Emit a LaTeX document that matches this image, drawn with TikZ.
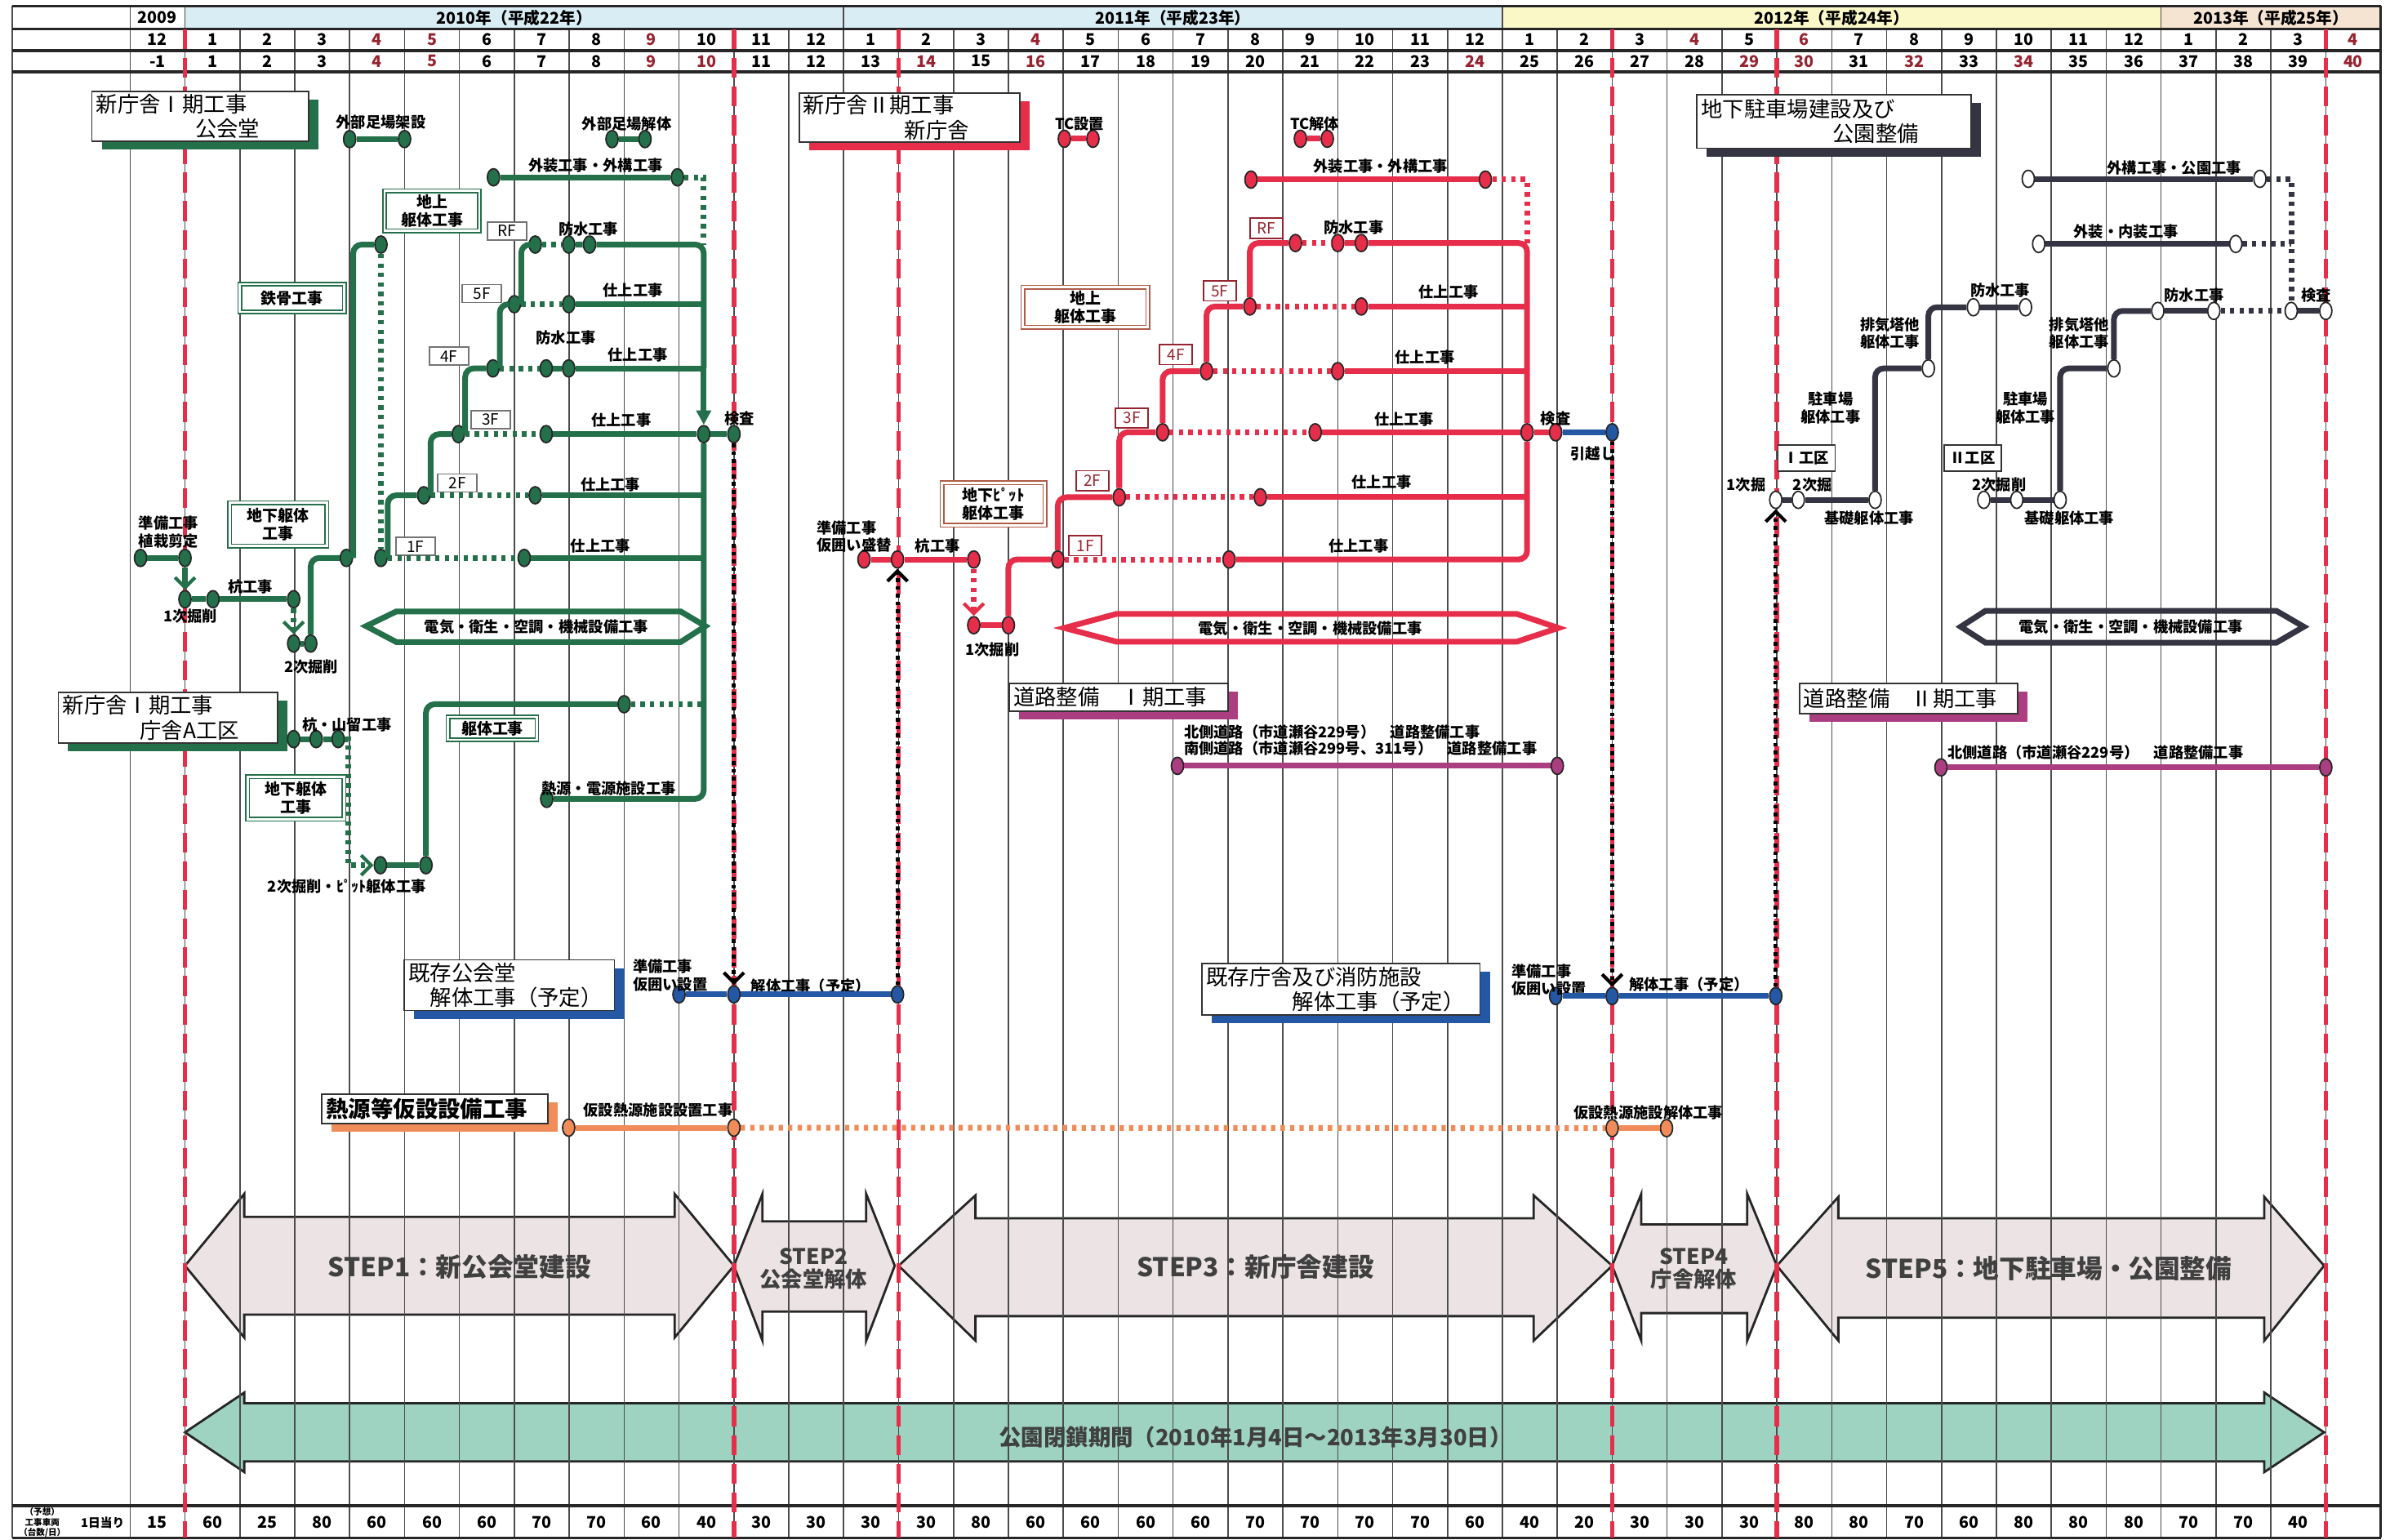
\documentclass[tikz,border=0pt]{standalone}
\usepackage{fontspec}
\setmainfont{Noto Sans CJK JP}
\usetikzlibrary{arrows.meta}
\usetikzlibrary{shapes.geometric}
\usetikzlibrary{shadows}
\usetikzlibrary{positioning}

\definecolor{grn}{RGB}{36,112,74}
\definecolor{rd}{RGB}{230,46,74}
\definecolor{dk}{RGB}{52,52,66}
\definecolor{blu}{RGB}{36,88,165}
\definecolor{pur}{RGB}{170,62,128}
\definecolor{org}{RGB}{240,140,90}
\definecolor{brn}{RGB}{176,92,70}
\definecolor{hred}{RGB}{150,36,48}
\definecolor{hblue}{RGB}{216,237,244}
\definecolor{hyel}{RGB}{250,248,198}
\definecolor{hpch}{RGB}{246,228,210}
\definecolor{stepfill}{RGB}{236,228,228}
\definecolor{parkfill}{RGB}{158,211,193}

% full-width roman numerals
\newcommand{\rI}{\makebox[1em]{Ⅰ}}
\newcommand{\rII}{\makebox[1em]{Ⅱ}}

\begin{document}
\begin{tikzpicture}[x=0.6723cm, y=-0.018727cm,
    gridln/.style={draw=black!70, line width=0.45pt},
    tblrule/.style={draw=black!85, line width=1pt},
    stagecut/.style={draw=rd, line width=1.6pt, dash pattern=on 7pt off 3pt},
    hdr/.style={font=\fontsize{5.6}{6}\selectfont\bfseries, inner sep=0},
    lbl/.style={font=\fontsize{5.2}{6.2}\selectfont\bfseries, inner sep=0, align=center},
    ttl/.style={draw=black!80, fill=white, line width=0.5pt, font=\fontsize{7.5}{8.6}\selectfont, align=left, inner xsep=1.5pt, inner ysep=0pt},
    shd/.style={drop shadow={shadow xshift=0.12cm, shadow yshift=-0.1cm, fill=#1, opacity=1}},
    dbox/.style={draw=#1, double=white, double distance=0.8pt, line width=0.45pt, fill=white, font=\fontsize{5.4}{6.4}\selectfont\bfseries, align=center, inner sep=0},
    flr/.style={draw=black!55, fill=white, line width=0.5pt, font=\fontsize{5.4}{6}\selectfont, inner sep=0, minimum width=0.48cm, minimum height=0.22cm},
    rflr/.style={flr, draw=hred, text=hred, minimum width=0.4cm, minimum height=0.245cm},
    ev/.style={ellipse, draw=black!85, fill=#1, line width=0.5pt, minimum width=0.15cm, minimum height=0.21cm, inner sep=0},
    work/.style={draw=#1, line width=2pt},
    wait/.style={draw=#1, line width=2pt, dash pattern=on 1.5pt off 1.8pt},
    xfer/.style={draw=black, line width=1.5pt, dash pattern=on 1.3pt off 1.4pt},
    barb/.style={-{Straight Barb[length=3.5pt,width=7pt,line width=1.2pt]}},
    hexa/.style={draw=#1, line width=2pt},
    stepar/.style={draw=black!85, line width=0.8pt, fill=#1},
    steptxt/.style={font=\fontsize{9}{10}\selectfont\bfseries, text=black!75, align=center, inner sep=0},
    zone/.style={draw=black!80, line width=0.5pt, fill=white, lbl, minimum width=0.7cm, minimum height=0.32cm}]

    % page
    \useasboundingbox (-3.37,0) rectangle (40.17,1007);

    % year cells
    \fill[hblue] (0,4) rectangle (24,19);
    \fill[hyel] (24,4) rectangle (36,19);
    \fill[hpch] (36,4) rectangle (40,19);

    % STEP arrows and park closure
    \draw[stepar=stepfill] (0,828) -- (1.08,781) -- (1.08,796) -- (8.92,796) -- (8.92,781) -- (10,828) -- (8.92,875) -- (8.92,860) -- (1.08,860) -- (1.08,875) -- cycle;
    \draw[stepar=stepfill] (10,828) -- (10.52,781) -- (10.52,799) -- (12.41,799) -- (12.41,781) -- (12.93,828) -- (12.41,877) -- (12.41,858) -- (10.52,858) -- (10.52,877) -- cycle;
    \draw[stepar=stepfill] (13,828) -- (14.4,782) -- (14.4,797) -- (24.57,797) -- (24.57,782) -- (26,828) -- (24.57,877) -- (24.57,861) -- (14.4,861) -- (14.4,877) -- cycle;
    \draw[stepar=stepfill] (26,828) -- (26.53,781) -- (26.53,801) -- (28.46,801) -- (28.46,781) -- (29,828) -- (28.46,877) -- (28.46,859) -- (26.53,859) -- (26.53,877) -- cycle;
    \draw[stepar=stepfill] (29,828) -- (30.12,783) -- (30.12,797) -- (37.88,797) -- (37.88,783) -- (38.97,828) -- (37.88,877) -- (37.88,862) -- (30.12,862) -- (30.12,877) -- cycle;
    \draw[stepar=parkfill] (0,937) -- (1.08,911) -- (1.08,918) -- (37.88,918) -- (37.88,911) -- (38.97,937) -- (37.88,963) -- (37.88,956) -- (1.08,956) -- (1.08,963) -- cycle;

    % Draw grid
    \foreach \x in {0,...,40} {
        \draw[gridln] (\x,19) -- (\x,1006);
    }
    \foreach \x in {-3.15,-1,0,12,24,36,40} {
        \draw[gridln] (\x,4) -- (\x,19);
    }
    \draw[gridln] (-3.15,19) -- (-3.15,1006);
    \draw[gridln] (-1,19) -- (-1,1006);
    \draw[tblrule] (40,4) -- (40,1006);
    \foreach \y in {4,19,33,47,985,1006} {
        \draw[tblrule] (-3.15,\y) -- (40,\y);
    }

    % stage boundaries
    \foreach \x in {0,10,13,26,29,39} {
        \draw[stagecut] (\x,19) -- (\x,1006);
    }

    % Add years, months and serial numbers
    \node[hdr] (yr09) at (-0.5,11.5) {2009};
    \node[hdr] (yr10) at (6,11.5) {2010年（平成22年）};
    \node[hdr] (yr11) at (18,11.5) {2011年（平成23年）};
    \node[hdr] (yr12) at (30,11.5) {2012年（平成24年）};
    \node[hdr] (yr13) at (38,11.5) {2013年（平成25年）};
    \node[hdr] (mon0) at (-0.5,26) {12};
    \node[hdr] (ser0) at (-0.5,40) {-1};
    \foreach \j in {1,...,40} {
        \pgfmathtruncatemacro\mon{mod(\j-1,12)+1}
        \pgfmathtruncatemacro\ra{(\j==4)||(\j==5)||(\j==9)||(\j==16)||(\j==28)||(\j==30)||(\j==40)}
        \pgfmathtruncatemacro\rb{(\j==4)||(\j==5)||(\j==9)||(\j==10)||(\j==14)||(\j==16)||(\j==24)||(\j==29)||(\j==30)||(\j==32)||(\j==34)||(\j==40)}
        \ifnum\ra=1 \def\hcA{hred}\else\def\hcA{black}\fi
        \ifnum\rb=1 \def\hcB{hred}\else\def\hcB{black}\fi
        \node[hdr, text=\hcA] (mon\j) at (\j-0.5,26) {\mon};
        \node[hdr, text=\hcB] (ser\j) at (\j-0.5,40) {\j};
    }

    % vehicles per day
    \node[font=\fontsize{3}{3.5}\selectfont\bfseries, align=center, inner sep=0] (veh) at (-2.6,996) {（予想）\\工事車両\\（台数/日）};
    \node[hdr, font=\fontsize{4.2}{5}\selectfont\bfseries] (perday) at (-1.5,996) {1日当り};
    \node[hdr] (val0) at (-0.5,996) {15};
    \foreach \v [count=\j] in {60,25,80,60,60,60,70,70,60,40,30,30,30,30,80,60,60,60,60,70,70,70,70,60,40,20,30,30,30,80,80,70,60,80,80,80,70,70,40} {
        \node[hdr] (val\j) at (\j-0.5,996) {\v};
    }

    % STEP texts
    \node[steptxt] (st1) at (5.0,829) {STEP1：新公会堂建設};
    \node[steptxt, font=\fontsize{7.5}{8}\selectfont\bfseries] (st2) at (11.45,830) {STEP2\\公会堂解体};
    \node[steptxt] (st3) at (19.5,829) {STEP3：新庁舎建設};
    \node[steptxt, font=\fontsize{7.5}{8}\selectfont\bfseries] (st4) at (27.49,830) {STEP4\\庁舎解体};
    \node[steptxt] (st5) at (33.95,830) {STEP5：地下駐車場・公園整備};
    \node[steptxt, font=\fontsize{7.8}{9}\selectfont\bfseries] (park) at (19.5,940) {公園閉鎖期間（2010年1月4日～2013年3月30日）};

    % equipment hexagons
    \draw[hexa=grn] (3.3,409.6) -- (3.85,400) -- (9.03,400) -- (9.48,409.6) -- (9.03,420) -- (3.85,420) -- cycle;
    \draw[hexa=rd] (16.02,410.8) -- (16.97,401.6) -- (24.26,401.6) -- (25.02,410.8) -- (24.26,419.8) -- (16.97,419.8) -- cycle;
    \draw[hexa=dk] (32.35,410) -- (32.8,399.6) -- (38.1,399.6) -- (38.6,410) -- (38.1,420.4) -- (32.8,420.4) -- cycle;
    \node[lbl] (hxG) at (6.4,410) {電気・衛生・空調・機械設備工事};
    \node[lbl] (hxR) at (20.5,411) {電気・衛生・空調・機械設備工事};
    \node[lbl] (hxK) at (35.45,410) {電気・衛生・空調・機械設備工事};

    % ---- new public hall (green) ----
    \node[ttl, shd=grn, text width=2.55cm, minimum height=0.61cm] (ttlHall) at (0.28,76) {新庁舎\rI 期工事\\\hspace*{4.6em}公会堂};
    \node[ttl, shd=grn, text width=2.58cm, minimum height=0.62cm] (ttlOffA) at (-0.31,469.5) {新庁舎\rI 期工事\\\hspace*{3.6em}庁舎A工区};
    \foreach \n/\x/\y in {gS1/3.0/91, gS2/4.0/91, gS3/7.78/91, gS4/8.38/91, gE1/5.62/116, gE2/8.97/116,
        gR1/6.38/160, gR2/6.99/160, gR3/7.37/160, g51/6.0/199, g52/6.99/199,
        g41/5.61/241, g42/6.58/241, g43/6.99/241, g31/4.98/284, g32/6.58/284, g33/9.45/284, gK/10.0/284,
        g21/4.35/324, g22/6.38/324, gA/2.94/365, gB/3.57/160, gC/3.57/365, g12/6.18/365,
        gP1/-0.81/365, gP2/0/365, gK1/0/392, gK2/0.51/392, gK3/1.98/392, gN1/1.98/421, gN2/2.29/421,
        gY1/1.98/483.5, gY2/2.39/483.5, gY3/2.79/483.5, gQ1/3.56/566, gQ2/4.39/566, gQ3/8.0/460.7, gH1/6.59/522.6}
        \node[ev=grn] (\n) at (\x,\y) {};
    \foreach \n/\y in {R/160,5/199,4/241,2/324,1/365,H/522.6,Q/460.7}
        \coordinate (gc\n) at (9.45,\y);

    \node[lbl] (tgS1) at (3.57,80) {外部足場架設};
    \node[lbl] (tgS3) at (8.05,81) {外部足場解体};
    \node[lbl] (tgE) at (7.48,108) {外装工事・外構工事};
    \node[lbl] (tgR) at (7.35,150) {防水工事};
    \node[lbl] (tgW) at (6.94,221) {防水工事};
    \foreach \n/\x/\y in {5/8.16/190, 4/8.25/232, 3/7.95/275, 2/7.75/317, 1/7.57/357}
        \node[lbl] (tgF\n) at (\x,\y) {仕上工事};
    \node[lbl] (tgK) at (10.1,274) {検査};
    \node[lbl] (tgP) at (-0.3,348) {準備工事\\植栽剪定};
    \node[lbl] (tgK2) at (1.19,384) {杭工事};
    \node[lbl] (tgK1) at (0.1,403) {1次掘削};
    \node[lbl] (tgN) at (2.3,436) {2次掘削};
    \node[lbl] (tgY) at (2.95,474) {杭・山留工事};
    \node[lbl] (tgQ) at (2.95,580) {2次掘削・ﾋﾟｯﾄ躯体工事};
    \node[lbl] (tgH) at (7.72,516) {熱源・電源施設工事};
    \node[dbox=grn, minimum width=1.16cm, minimum height=0.49cm] (bxUp) at (4.5,138) {地上\\躯体工事};
    \node[dbox=grn, minimum width=1.28cm, minimum height=0.34cm] (bxSteel) at (1.95,195) {鉄骨工事};
    \node[dbox=grn, minimum width=1.19cm, minimum height=0.53cm] (bxUnder) at (1.7,343) {地下躯体\\工事};
    \node[dbox=grn, minimum width=1.18cm, minimum height=0.52cm] (bxUnderA) at (2.02,522) {地下躯体\\工事};
    \node[dbox=grn, minimum width=1.09cm, minimum height=0.28cm] (bxBody) at (5.6,476.5) {躯体工事};
    \foreach \n/\x/\y in {RF/5.87/151, 5F/5.41/192, 4F/4.81/233, 3F/5.565/274.5, 2F/4.96/316, 1F/4.2/357.5}
        \node[flr] (gf\n) at (\x,\y) {\n};

    \draw[work=grn] (gS1) -- (gS2);
    \draw[work=grn] (gS3) -- (gS4);
    \draw[work=grn] (gE1) -- (gE2);
    \draw[wait=grn] (gE2) -| (gcR);
    \draw[wait=grn] (gR1) -- (gR2);
    \draw[work=grn, rounded corners=3pt] (gR2) -- (gR3) -- (gcR) -- (gc4);
    \draw[work=grn, -{Triangle[length=5pt,width=5pt]}] (gc4) -- (g33);
    \draw[work=grn, rounded corners=3pt] (g33) -- (gcH) -- (gH1);
    \draw[wait=grn] (g51) -- (g52);
    \draw[work=grn] (g52) -- (gc5);
    \draw[wait=grn] (g41) -- (g42);
    \draw[work=grn] (g42) -- (g43) -- (gc4);
    \draw[wait=grn] (g31) -- (g32);
    \draw[work=grn] (g32) -- (g33) -- (gK);
    \draw[wait=grn] (g21) -- (g22);
    \draw[work=grn] (g22) -- (gc2);
    \draw[wait=grn] (gB) -- (gC);
    \draw[wait=grn] (gC) -- (g12);
    \draw[work=grn] (g12) -- (gc1);
    \draw[work=grn, rounded corners=3pt] (gA.east) |- (gB);
    \draw[work=grn, rounded corners=3pt] (gC.east) |- (g21);
    \draw[work=grn, rounded corners=3pt] (g21.east) |- (g31);
    \draw[work=grn, rounded corners=3pt] (g31.east) |- (g41);
    \draw[work=grn, rounded corners=3pt] (g41.east) |- (g51);
    \draw[work=grn, rounded corners=3pt] (g51.east) |- (gR1);
    \draw[work=grn] (gP1) -- (gP2);
    \draw[work=grn, barb] (gP2) -- (gK1);
    \draw[work=grn] (gK1) -- (gK2) -- (gK3);
    \draw[wait=grn, barb] (gK3) -- (gN1);
    \draw[work=grn] (gN1) -- (gN2);
    \draw[work=grn, rounded corners=3pt] (gN2) |- (gA);
    \draw[work=grn] (gY1) -- (gY2) -- (gY3);
    \draw[wait=grn, barb] (gY3) -| (2.97,566) -- (gQ1);
    \draw[work=grn] (gQ1) -- (gQ2);
    \draw[work=grn, rounded corners=3pt] (gQ2) |- (gQ3);
    \draw[wait=grn] (gQ3) -- (gcQ);

    % ---- new office building (red) ----
    \node[ttl, shd=rd, text width=2.6cm, minimum height=0.6cm] (ttlNew) at (13.2,77) {新庁舎\rII 期工事\\\hspace*{4.7em}新庁舎};
    \foreach \n/\x/\y in {rT1/16.02/90.8, rT2/16.54/90.8, rT3/20.32/90.8, rT4/20.81/90.8, rE1/19.42/117.5, rE2/23.69/117.5,
        rR1/20.23/159, rR2/21.0/159, rR3/21.43/159, r51/19.4/200.5, r52/21.43/200.5, r41/18.61/242.8, r42/21.0/242.8,
        r31/17.81/282.8, r32/20.59/282.8, r33/24.45/282.8, rK/24.97/282.8, r21/17.02/325.3, r22/19.59/325.3,
        r11/15.9/366, r12/19.02/366, rA/12.37/366, rB/12.98/366, rC/14.37/366, rD/14.37/409, rE/15.0/409}
        \node[ev=rd] (\n) at (\x,\y) {};
    \foreach \n/\y in {R/159,5/200.5,4/242.8,2/325.3,1/366}
        \coordinate (rc\n) at (24.45,\y);

    \node[lbl] (trT1) at (16.3,81) {TC設置};
    \node[lbl] (trT3) at (20.58,81) {TC解体};
    \node[lbl] (trE) at (21.78,109) {外装工事・外構工事};
    \node[lbl] (trR) at (21.29,149) {防水工事};
    \foreach \n/\x/\y in {5/23.02/191, 4/22.59/234, 3/22.21/274.5, 2/21.8/315.5, 1/21.38/357}
        \node[lbl] (trF\n) at (\x,\y) {仕上工事};
    \node[lbl] (trK) at (24.97,274) {検査};
    \node[lbl] (trM) at (25.65,297) {引越し};
    \node[lbl, anchor=west, align=left] (trP) at (11.5,351) {準備工事\\仮囲い盛替};
    \node[lbl] (trC) at (13.71,357) {杭工事};
    \node[lbl] (trD) at (14.71,425) {1次掘削};
    \node[dbox=brn, minimum width=1.53cm, minimum height=0.49cm] (bxUpR) at (16.4,201) {地上\\躯体工事};
    \node[dbox=brn, minimum width=1.26cm, minimum height=0.52cm] (bxPit) at (14.73,329.7) {地下ﾋﾟｯﾄ\\躯体工事};
    \foreach \n/\x/\y in {RF/19.7/149.3, 5F/18.85/190.3, 4F/18.05/232, 3F/17.25/273.5, 2F/16.53/314.5, 1F/16.4/357}
        \node[rflr] (rf\n) at (\x,\y) {\n};

    \draw[work=rd] (rT1) -- (rT2);
    \draw[work=rd] (rT3) -- (rT4);
    \draw[work=rd] (rE1) -- (rE2);
    \draw[wait=rd] (rE2) -| (rcR);
    \draw[wait=rd] (rR1) -- (rR2);
    \draw[work=rd, rounded corners=3pt] (rR2) -- (rR3) -- (rcR) -- (r33);
    \draw[work=rd, rounded corners=3pt] (r33) -- (rc1) -- (r12);
    \draw[wait=rd] (r51) -- (r52);
    \draw[work=rd] (r52) -- (rc5);
    \draw[wait=rd] (r41) -- (r42);
    \draw[work=rd] (r42) -- (rc4);
    \draw[wait=rd] (r31) -- (r32);
    \draw[work=rd] (r32) -- (r33) -- (rK);
    \draw[wait=rd] (r21) -- (r22);
    \draw[work=rd] (r22) -- (rc2);
    \draw[wait=rd] (r11) -- (r12);
    \draw[work=rd, rounded corners=3pt] (r11) |- (r21);
    \draw[work=rd, rounded corners=3pt] (r21) |- (r31);
    \draw[work=rd, rounded corners=3pt] (r31) |- (r41);
    \draw[work=rd, rounded corners=3pt] (r41) |- (r51);
    \draw[work=rd, rounded corners=3pt] (r51) |- (rR1);
    \draw[work=rd] (rA) -- (rB) -- (rC);
    \draw[wait=rd, barb] (rC) -- (rD);
    \draw[work=rd] (rD) -- (rE);
    \draw[work=rd, rounded corners=3pt] (rE) |- (r11);

    % ---- road works (purple) ----
    \node[ttl, shd=pur, text width=2.58cm, minimum height=0.34cm] (ttlRoadA) at (17.01,456) {道路整備　\rI 期工事};
    \node[ttl, shd=pur, text width=2.57cm, minimum height=0.375cm] (ttlRoadB) at (31.4,457) {道路整備　\rII 期工事};
    \foreach \n/\x/\y in {pR1/18.08/501, pR2/25.0/501, pR3/31.99/502, pR4/39.0/502}
        \node[ev=pur] (\n) at (\x,\y) {};
    \node[lbl, anchor=west] (tpN) at (18.19,479) {北側道路（市道瀬谷229号）　道路整備工事};
    \node[lbl, anchor=west] (tpS) at (18.19,489.5) {南側道路（市道瀬谷299号、311号）　道路整備工事};
    \node[lbl, anchor=west] (tpN2) at (32.1,492) {北側道路（市道瀬谷229号）　道路整備工事};
    \draw[work=pur] (pR1) -- (pR2);
    \draw[work=pur] (pR3) -- (pR4);

    % ---- demolition (blue) ----
    \node[ttl, shd=blu, text width=2.47cm, minimum height=0.62cm] (ttlDemoA) at (5.91,644.5) {既存公会堂\\\hspace*{1.0em}解体工事（予定）};
    \node[ttl, shd=blu, text width=3.3cm, minimum height=0.63cm] (ttlDemoB) at (21.06,647.3) {既存庁舎及び消防施設\\\hspace*{4em}解体工事（予定）};
    \foreach \n/\x/\y in {bA1/9.0/650.5, bA2/10.0/650.5, bA3/12.98/650.5, bB1/24.97/651.6, bB2/26.0/651.6, bB3/28.98/651.6, bM/26.0/282.8}
        \node[ev=blu] (\n) at (\x,\y) {};
    \node[lbl, anchor=west, align=left] (tbA) at (8.15,638) {準備工事\\仮囲い設置};
    \node[lbl] (tbA2) at (11.4,645) {解体工事（予定）};
    \node[lbl, anchor=west, align=left] (tbB) at (24.16,641) {準備工事\\仮囲い設置};
    \node[lbl] (tbB2) at (27.4,644) {解体工事（予定）};
    \draw[work=blu] (bA1) -- (bA2) -- (bA3);
    \draw[work=blu] (bB1) -- (bB2) -- (bB3);
    \draw[work=blu] (rK) -- (bM);

    % hand-overs between stages
    \draw[xfer, barb] (gK) -- (bA2);
    \draw[xfer, barb] (bA3) -- (rB);
    \draw[xfer, barb] (bM) -- (bB2);

    % ---- temporary heat source (orange) ----
    \node[ttl, shd=org, font=\fontsize{7.8}{9}\selectfont\bfseries, text width=2.66cm, minimum height=0.36cm] (ttlHeat) at (4.55,725.5) {熱源等仮設設備工事};
    \foreach \n/\x/\y in {oA1/6.99/737.7, oA2/10.0/737.7, oA3/26.0/738, oA4/26.99/738}
        \node[ev=org] (\n) at (\x,\y) {};
    \node[lbl] (toA) at (8.62,726.5) {仮設熱源施設設置工事};
    \node[lbl] (toB) at (26.66,728) {仮設熱源施設解体工事};
    \draw[work=org] (oA1) -- (oA2);
    \draw[wait=org] (oA2) -- (oA3);
    \draw[work=org] (oA3) -- (oA4);

    % ---- underground parking and park (dark) ----
    \node[ttl, shd=dk, text width=3.25cm, minimum height=0.655cm] (ttlPark) at (30.04,79.5) {地下駐車場建設及び\\\hspace*{6.1em}公園整備};
    \foreach \n/\x/\y in {pE1/33.58/117, pE2/37.8/117, pF1/33.77/159.6, pF2/37.36/159.6,
        pk1/28.98/327, pk2/29.39/327, pk3/30.79/327, pk4/31.76/241, pk5/32.58/201, pk6/33.53/201,
        pq1/32.77/327, pq2/33.37/327, pq3/34.16/327, pq4/35.14/241, pq5/35.94/203.4, pq6/36.96/203.4, pq7/38.37/203.4, pq8/39.0/203.4}
        \node[ev=white] (\n) at (\x,\y) {};
    \coordinate (pv) at (38.37,159.6);

    \node[lbl] (tkE) at (36.24,110) {外構工事・公園工事};
    \node[lbl] (tkF) at (35.36,151.5) {外装・内装工事};
    \node[lbl] (tk1) at (28.44,317) {1次掘};
    \node[lbl] (tk2) at (29.65,317) {2次掘};
    \node[lbl] (tk3) at (30.68,339) {基礎躯体工事};
    \node[lbl] (tk4) at (29.98,267) {駐車場\\躯体工事};
    \node[lbl] (tk5) at (31.06,218) {排気塔他\\躯体工事};
    \node[lbl] (tk6) at (33.07,190) {防水工事};
    \node[lbl] (tq2) at (33.05,317) {2次掘削};
    \node[lbl] (tq3) at (34.33,339) {基礎躯体工事};
    \node[lbl] (tq4) at (33.53,267) {駐車場\\躯体工事};
    \node[lbl] (tq5) at (34.51,218) {排気塔他\\躯体工事};
    \node[lbl] (tq6) at (36.6,193) {防水工事};
    \node[lbl] (tq8) at (38.83,193) {検査};
    \node[zone] (zone1) at (29.54,299.5) {\rI 工区};
    \node[zone] (zone2) at (32.57,299.5) {\rII 工区};

    \draw[work=dk] (pE1) -- (pE2);
    \draw[work=dk] (pF1) -- (pF2);
    \draw[wait=dk] (pE2) -| (pq7);
    \draw[wait=dk] (pF2) -- (pv);
    \draw[work=dk] (pk1) -- (pk2) -- (pk3);
    \draw[work=dk, rounded corners=3pt] (pk3) |- (pk4);
    \draw[work=dk, rounded corners=3pt] (pk4) |- (pk5);
    \draw[work=dk] (pk5) -- (pk6);
    \draw[work=dk] (pq1) -- (pq2) -- (pq3);
    \draw[work=dk, rounded corners=3pt] (pq3) |- (pq4);
    \draw[work=dk, rounded corners=3pt] (pq4) |- (pq5);
    \draw[work=dk] (pq5) -- (pq6);
    \draw[wait=dk] (pq6) -- (pq7);
    \draw[work=dk] (pq7) -- (pq8);
    \draw[xfer, barb] (bB3) -- (pk1);

\end{tikzpicture}
\end{document}
